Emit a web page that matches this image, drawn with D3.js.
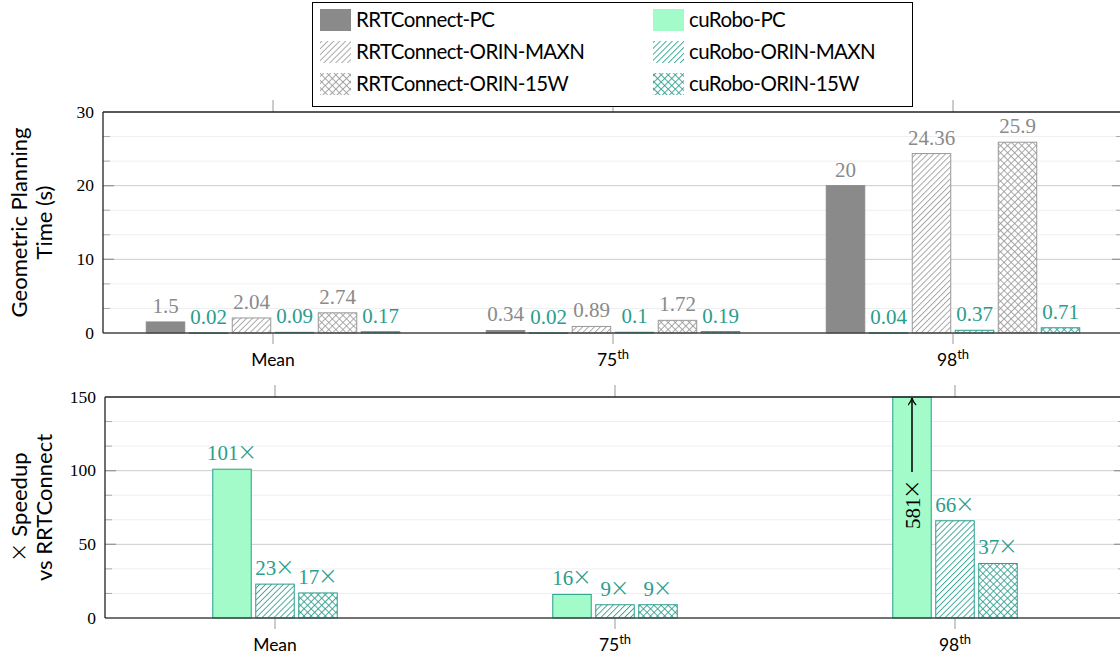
<!DOCTYPE html>
<html>
<head>
<meta charset="utf-8">
<script src="https://cdn.jsdelivr.net/npm/d3@7/dist/d3.min.js"></script>
<style>
  html, body { margin: 0; padding: 0; background: #fff; }
  svg { display: block; }
  .sans { font-family: Lato, "Open Sans", sans-serif; }
  .serif { font-family: "Liberation Serif", serif; }
</style>
</head>
<body>
<svg id="chart" width="1120" height="657"></svg>
<script>
// ---------- data ----------
const categories = ["Mean", "75th", "98th"];
const categoryBase = ["Mean", "75", "98"];
const categorySup = ["", "th", "th"];

const topSeriesNames = ["RRTConnect-PC", "cuRobo-PC", "RRTConnect-ORIN-MAXN", "cuRobo-ORIN-MAXN", "RRTConnect-ORIN-15W", "cuRobo-ORIN-15W"];
const rrtPC   = [1.5, 0.34, 20];
const cuPC    = [0.02, 0.02, 0.04];
const rrtMAXN = [2.04, 0.89, 24.36];
const cuMAXN  = [0.09, 0.1, 0.37];
const rrt15W  = [2.74, 1.72, 25.9];
const cu15W   = [0.17, 0.19, 0.71];
const topValues = [rrtPC, cuPC, rrtMAXN, cuMAXN, rrt15W, cu15W];

const speedNames = ["cuRobo-PC", "cuRobo-ORIN-MAXN", "cuRobo-ORIN-15W"];
const speedPC   = [101, 16, 581];
const speedMAXN = [23, 9, 66];
const speed15W  = [17, 9, 37];
const speedValues = [speedPC, speedMAXN, speed15W];

const topTicks = [0, 10, 20, 30];
const speedTicks = [0, 50, 100, 150];

const legendOrder = ["RRTConnect-PC", "cuRobo-PC", "RRTConnect-ORIN-MAXN", "cuRobo-ORIN-MAXN", "RRTConnect-ORIN-15W", "cuRobo-ORIN-15W"];

// ---------- styles ----------
const GRAY = "#8a8a8a";
const TEAL = "#2a9d8c";
const MINT = "#a2fbc9";
const style = {
  "RRTConnect-PC":        {fill: GRAY, stroke: GRAY, label: GRAY},
  "RRTConnect-ORIN-MAXN": {fill: "url(#hatchGray)", stroke: "#999", label: GRAY},
  "RRTConnect-ORIN-15W":  {fill: "url(#crossGray)", stroke: "#999", label: GRAY},
  "cuRobo-PC":            {fill: MINT, stroke: TEAL, label: TEAL},
  "cuRobo-ORIN-MAXN":     {fill: "url(#hatchTeal)", stroke: TEAL, label: TEAL},
  "cuRobo-ORIN-15W":      {fill: "url(#crossTeal)", stroke: TEAL, label: TEAL}
};

const svg = d3.select("#chart");
const defs = svg.append("defs");

function hatch(id, color, both) {
  const s = both ? 5 : 4.2;
  const p = defs.append("pattern").attr("id", id).attr("patternUnits", "userSpaceOnUse")
    .attr("width", s).attr("height", s).attr("patternTransform", "rotate(45)");
  p.append("rect").attr("width", s).attr("height", s).attr("fill", "#fff");
  p.append("line").attr("x1", 0.5).attr("x2", 0.5).attr("y1", -1).attr("y2", s + 1)
    .attr("stroke", color).attr("stroke-width", 0.85);
  if (both) {
    p.append("line").attr("x1", -1).attr("x2", s + 1).attr("y1", 0.5).attr("y2", 0.5)
      .attr("stroke", color).attr("stroke-width", 0.85);
  }
}
hatch("hatchGray", "#999", false);
hatch("hatchTeal", TEAL, false);
hatch("crossGray", "#999", true);
hatch("crossTeal", TEAL, true);

svg.append("marker").attr("id", "arrow").attr("viewBox", "0 0 10 10")
  .attr("refX", 9).attr("refY", 5).attr("markerWidth", 9).attr("markerHeight", 9)
  .attr("markerUnits", "userSpaceOnUse").attr("orient", "auto")
  .append("path").attr("d", "M1,0.5 Q5,4 9,5 Q5,6 1,9.5").attr("fill", "none").attr("stroke", "#000").attr("stroke-width", 1.4);

// write a label, enlarging a trailing "×" sign like the reference typeface
function writeLabel(sel, str) {
  const hasX = str.endsWith("\u00d7");
  sel.append("tspan").text(hasX ? str.slice(0, -1) : str);
  if (hasX) sel.append("tspan").attr("dx", -1.5).attr("font-size", "1.15em").attr("font-family", "DejaVu Sans").attr("font-weight", 200).text("\u00d7");
}

// ---------- panel helper ----------
function panel(opts) {
  const {x0, x1, yTop, yBot, yMax, ticks, names, values, title, labelFmt, clipLabelOffset} = opts;
  const g = svg.append("g");
  const x = d3.scalePoint().domain(categories).range([x0, x1]).padding(0.5);
  const y = d3.scaleLinear().domain([0, yMax]).range([yBot, yTop]);
  const stepW = 43;
  const inner = d3.scaleBand().domain(names)
    .range([-stepW * names.length / 2, stepW * names.length / 2])
    .paddingInner(0.105).paddingOuter(0.0525);

  // minor grid
  const majorStep = ticks[1] - ticks[0];
  const minor = [];
  for (let i = 0; i < ticks.length - 1; i++) {
    minor.push(ticks[i] + majorStep / 3, ticks[i] + 2 * majorStep / 3);
  }
  g.selectAll(".mg").data(minor).join("line")
    .attr("x1", x0).attr("x2", x1).attr("y1", d => y(d)).attr("y2", d => y(d))
    .attr("stroke", "#efefef").attr("stroke-width", 1);
  g.selectAll(".Mg").data(ticks.slice(1, -1)).join("line")
    .attr("x1", x0).attr("x2", x1).attr("y1", d => y(d)).attr("y2", d => y(d))
    .attr("stroke", "#cccccc").attr("stroke-width", 1);
  // y ticks inside, both sides
  [[x0, 1], [x1, -1]].forEach(([xs, dir]) => {
    g.selectAll(null).data(minor).join("line")
      .attr("x1", xs).attr("x2", xs + dir * 7).attr("y1", d => y(d)).attr("y2", d => y(d))
      .attr("stroke", "#aaa").attr("stroke-width", 1);
    g.selectAll(null).data(ticks.slice(1, -1)).join("line")
      .attr("x1", xs).attr("x2", xs + dir * 11).attr("y1", d => y(d)).attr("y2", d => y(d))
      .attr("stroke", "#999").attr("stroke-width", 1.3);
  });

  // x ticks (outside top and bottom)
  g.selectAll(".xtT").data(categories).join("line")
    .attr("x1", d => x(d)).attr("x2", d => x(d)).attr("y1", yTop - 12).attr("y2", yTop)
    .attr("stroke", "#999").attr("stroke-width", 1);
  g.selectAll(".xtB").data(categories).join("line")
    .attr("x1", d => x(d)).attr("x2", d => x(d)).attr("y1", yBot).attr("y2", yBot + 11)
    .attr("stroke", "#999").attr("stroke-width", 1);

  // bars
  names.forEach((name, si) => {
    const st = style[name];
    const gg = g.append("g");
    gg.selectAll("rect").data(values[si]).join("rect")
      .attr("x", (d, i) => x(categories[i]) + inner(name))
      .attr("width", inner.bandwidth())
      .attr("y", d => y(Math.min(d, yMax)))
      .attr("height", d => Math.max(0.6, yBot - y(Math.min(d, yMax))))
      .attr("fill", st.fill).attr("stroke", st.stroke).attr("stroke-width", 1);
    gg.selectAll("text").data(values[si]).join("text")
      .filter(d => d <= yMax)
      .attr("class", "serif")
      .attr("x", (d, i) => x(categories[i]) + inner(name) + inner.bandwidth() / 2)
      .attr("y", d => y(d) - 9)
      .attr("text-anchor", "middle")
      .attr("font-size", 21)
      .attr("fill", st.label)
      .each(function(d) { writeLabel(d3.select(this), labelFmt(d)); });
    // clipped bars: label inside, rotated, with arrow
    values[si].forEach((d, i) => {
      if (d > yMax) {
        const cx = x(categories[i]) + inner(name) + inner.bandwidth() / 2;
        const ty = yBot - clipLabelOffset;
        const t = gg.append("text").attr("class", "serif")
          .attr("transform", `translate(${cx + 7.5},${ty}) rotate(-90)`)
          .attr("text-anchor", "middle").attr("font-size", 21).attr("fill", "#000");
        writeLabel(t, labelFmt(d));
        gg.append("line").attr("x1", cx).attr("x2", cx)
          .attr("y1", ty - 32).attr("y2", yTop + 1)
          .attr("stroke", "#000").attr("stroke-width", 1.5)
          .attr("marker-end", "url(#arrow)");
      }
    });
  });

  // frame
  g.append("line").attr("x1", x0).attr("x2", x1).attr("y1", yTop).attr("y2", yTop).attr("stroke", "#222").attr("stroke-width", 1.3);
  g.append("line").attr("x1", x0).attr("x2", x1).attr("y1", yBot).attr("y2", yBot).attr("stroke", "#444").attr("stroke-width", 1.6);
  g.append("line").attr("x1", x0).attr("x2", x0).attr("y1", yTop).attr("y2", yBot).attr("stroke", "#222").attr("stroke-width", 1.3);

  // y tick labels
  g.selectAll(".yl").data(ticks).join("text")
    .attr("class", "serif")
    .attr("x", x0 - 9).attr("y", d => y(d))
    .attr("dy", "0.32em").attr("text-anchor", "end").attr("font-size", 17.5)
    .attr("fill", "#000").text(d => d);

  // x labels
  const xl = g.selectAll(".xl").data(categories).join("text")
    .attr("class", "sans")
    .attr("x", d => x(d)).attr("y", yBot + 33)
    .attr("text-anchor", "middle").attr("font-size", 17.5).attr("fill", "#000");
  xl.append("tspan").text((d, i) => categoryBase[i]);
  xl.append("tspan").attr("dy", -7).attr("font-size", 13).text((d, i) => categorySup[i]);

  // axis title
  const cy = (yTop + yBot) / 2;
  title.forEach((t, i) => {
    const tt = g.append("text").attr("class", "sans")
      .attr("transform", `translate(${27 + i * 25},${cy}) rotate(-90)`)
      .attr("text-anchor", "middle").attr("font-size", 22).attr("fill", "#000");
    if (t.startsWith("\u00d7")) {
      tt.append("tspan").attr("font-size", "1.1em").attr("font-family", "DejaVu Sans").attr("font-weight", 200).text("\u00d7");
      tt.append("tspan").text(t.slice(1));
    } else {
      tt.text(t);
    }
  });
}

panel({x0: 103, x1: 1123, yTop: 112, yBot: 333, yMax: 30, ticks: topTicks,
  names: topSeriesNames, values: topValues,
  title: ["Geometric Planning", "Time (s)"], labelFmt: d => String(d), clipLabelOffset: 0});

panel({x0: 105, x1: 1125, yTop: 397, yBot: 618, yMax: 150, ticks: speedTicks,
  names: speedNames, values: speedValues,
  title: ["\u00d7 Speedup", "vs RRTConnect"], labelFmt: d => d + "\u00d7", clipLabelOffset: 114});

// ---------- legend ----------
const lg = svg.append("g");
lg.append("rect").attr("x", 312.5).attr("y", 2.5).attr("width", 600).attr("height", 104)
  .attr("fill", "#fff").attr("stroke", "#000").attr("stroke-width", 1);
const lgCol = d3.scaleOrdinal().domain([0, 1]).range([320, 653]);
const lgRow = d3.scalePoint().domain([0, 1, 2]).range([20, 84]);
legendOrder.forEach((name, i) => {
  const col = i % 2, row = Math.floor(i / 2);
  const st = style[name];
  lg.append("rect").attr("x", lgCol(col)).attr("y", lgRow(row) - 11)
    .attr("width", 31).attr("height", 22)
    .attr("fill", st.fill);
  lg.append("text").attr("class", "sans")
    .attr("x", lgCol(col) + 36).attr("y", lgRow(row))
    .attr("dy", "0.36em").attr("font-size", 20.5).attr("letter-spacing", "-0.6px").attr("fill", "#000")
    .text(name);
});
</script>
</body>
</html>
